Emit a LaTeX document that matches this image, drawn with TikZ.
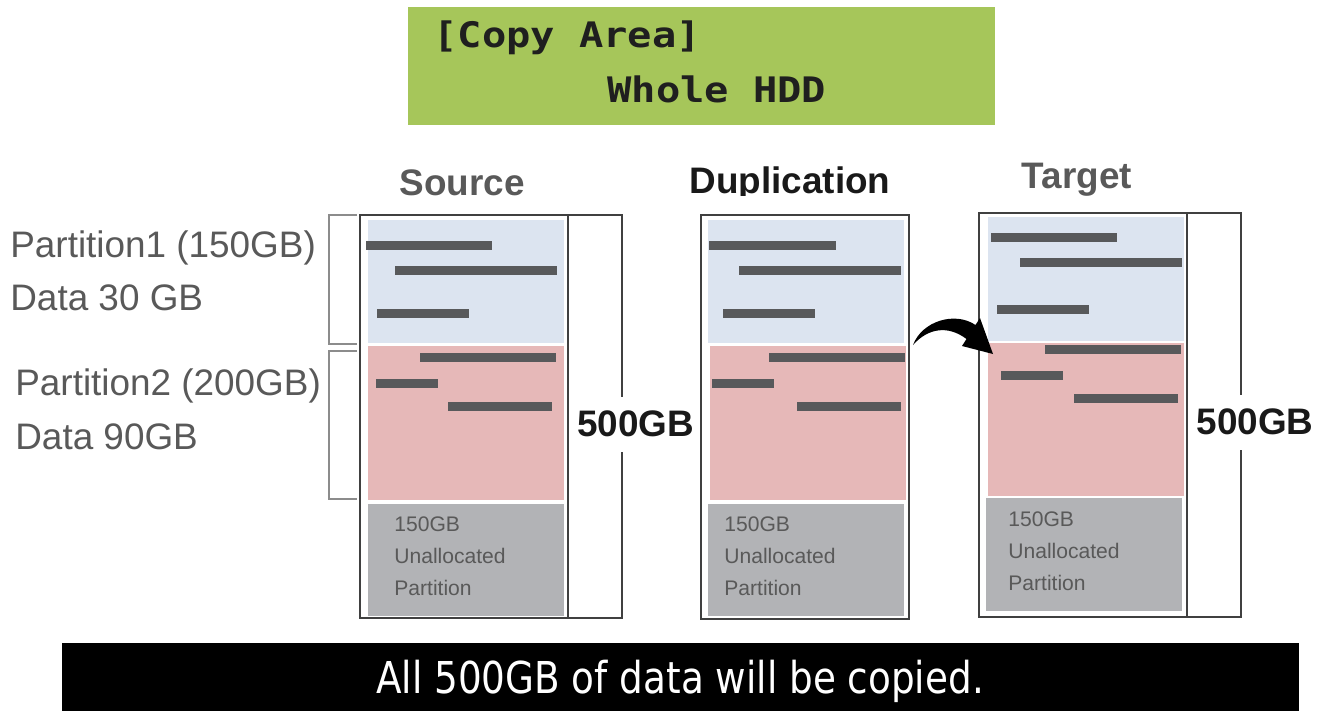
\documentclass[tikz,border=0pt]{standalone}
\usepackage{fontspec}
\setmainfont{Liberation Sans}
\newfontfamily\lcdfont[FakeStretch=1.15]{DejaVu Sans Mono}
\newfontfamily\notefont[FakeStretch=0.85]{DejaVu Sans}

\definecolor{lcdgreen}{HTML}{A6C65A}
\definecolor{partblue}{HTML}{DCE4F0}
\definecolor{partpink}{HTML}{E6B8B8}
\definecolor{freegray}{HTML}{B2B3B6}
\definecolor{bargray}{HTML}{58595B}
\definecolor{textgray}{HTML}{595959}

\tikzset{
  frame/.style={draw=black!75, line width=0.8pt},
  brace/.style={draw=black!45, line width=0.8pt},
  part1/.style={fill=partblue},
  part2/.style={fill=partpink},
  free/.style={fill=freegray},
  databar/.style={fill=bargray},
  lcdtext/.style={font=\lcdfont\bfseries\fontsize{20}{24}\selectfont, text=black!88, anchor=west, inner sep=0},
  title/.style={font=\fontsize{21}{25}\selectfont\bfseries, inner sep=0},
  sizelabel/.style={font=\fontsize{21}{25}\selectfont\bfseries, fill=white, inner xsep=1pt, minimum height=1.1cm, text=black!90},
  sidelabel/.style={font=\fontsize{21}{25}\selectfont, text=textgray, anchor=west, inner sep=0},
  freelabel/.style={font=\fontsize{12}{18.2}\selectfont, text=textgray, align=left, anchor=west, inner sep=0},
}

\begin{document}
\begin{tikzpicture}[x=0.02cm, y=-0.02cm]
\useasboundingbox (0,0) rectangle (1323,711);

% lcd panel
\fill[lcdgreen] (408,7) rectangle (995,125);
\node[lcdtext] (area) at (433,38) {[Copy Area]};
\node[lcdtext] (whole) at (607,89) {Whole HDD};

% titles
\node[title, text=textgray] (src) at (462,183) {Source};
\begin{scope}
\clip (600,150) rectangle (950,195);
\node[title, text=black!90] (dup) at (790,184) {Duplication};
\end{scope}
\node[title, text=textgray] (tgt) at (1077,180) {Target};

% source drive
\draw[frame] (360,215) rectangle (622,618);
\draw[frame] (568,215) -- (568,618);
\fill[part1] (368,220) rectangle (564,343);
\fill[part2] (368,346) rectangle (564,500);
\fill[free] (368,504) rectangle (564,616);
\foreach \xa/\xb/\y in {366/492/241, 395/557/266, 377/469/309, 420/556/353, 376/438/379, 448/552/402}
  \fill[databar] (\xa,\y) rectangle (\xb,\y+9);
\node[freelabel] (srcfree) at (394,556) {150GB\\Unallocated\\Partition};
\node[sizelabel] (srcsize) at (635.5,424) {500GB};

% duplication drive
\draw[frame] (701,215) rectangle (909,619);
\fill[part1] (708,220) rectangle (904,343);
\fill[part2] (710,346) rectangle (906,500);
\fill[free] (708,504) rectangle (904,616);
\foreach \xa/\xb/\y in {709/836/241, 739/901/266, 723/815/309, 769/905/353, 712/774/379, 797/901/402}
  \fill[databar] (\xa,\y) rectangle (\xb,\y+9);
\node[freelabel] (dupfree) at (724,556) {150GB\\Unallocated\\Partition};

% target drive
\draw[frame] (979,213) rectangle (1241,617);
\draw[frame] (1187,213) -- (1187,617);
\fill[part1] (988,217) rectangle (1184,341);
\fill[part2] (988,343) rectangle (1184,496);
\fill[free] (986,498) rectangle (1182,611);
\foreach \xa/\xb/\y in {991/1117/233, 1020/1182/258, 997/1089/305, 1045/1181/345, 1001/1063/371, 1074/1178/394}
  \fill[databar] (\xa,\y) rectangle (\xb,\y+9);
\node[freelabel] (tgtfree) at (1008,551) {150GB\\Unallocated\\Partition};
\node[sizelabel] (tgtsize) at (1255,422) {500GB};

% partition brackets and labels
\draw[brace] (357,215) -- (329,215) -- (329,344) -- (357,344);
\draw[brace] (357,351) -- (329,351) -- (329,499) -- (357,499);
\node[sidelabel] (p1) at (10,248) {Partition1 (150GB)};
\node[sidelabel] (d1) at (10,298) {Data 30 GB};
\node[sidelabel] (p2) at (15,386) {Partition2 (200GB)};
\node[sidelabel] (d2) at (15,437) {Data 90GB};

% copy arrow
\coordinate (arrowtail) at (913,345);
\coordinate (arrowtip) at (993,354);
\fill[black] (arrowtail) .. controls (922,321) and (955,311) .. (975.5,325)
  -- (980,318) -- (arrowtip) -- (962,346) -- (966.5,339)
  .. controls (948,325) and (928,328) .. (arrowtail) -- cycle;

% note bar
\fill[black] (62,643) rectangle (1299,711);
\node[font=\notefont\fontsize{25}{30}\selectfont, text=white, inner sep=0] (note) at (680,681) {All 500GB of data will be copied.};

\end{tikzpicture}
\end{document}
